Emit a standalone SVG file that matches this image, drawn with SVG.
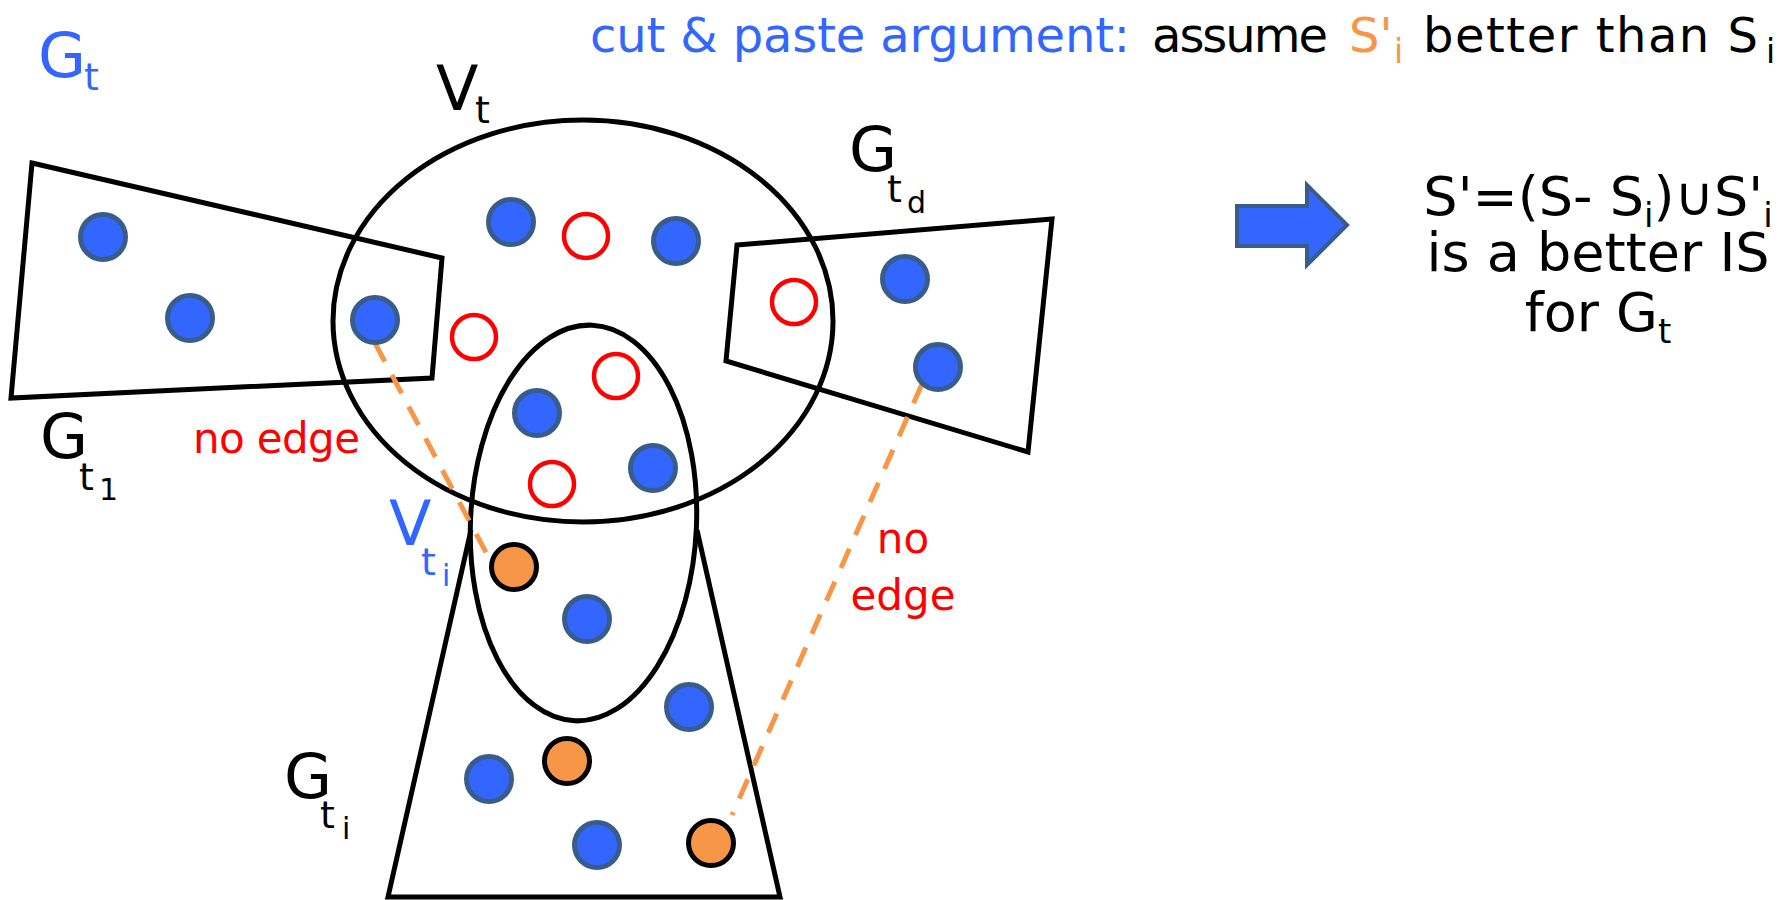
<svg xmlns="http://www.w3.org/2000/svg" width="1791" height="900" viewBox="0 0 1791 900">
<defs>
<style>
.shape{fill:none;stroke:#000;stroke-width:5;stroke-linejoin:miter}
.blue{fill:#3366FF;stroke:#385D8A;stroke-width:5}
.red{fill:#fff;stroke:#FF0000;stroke-width:4.5}
.orange{fill:#F79646;stroke:#000;stroke-width:5}
.dash{fill:none;stroke:#F79646;stroke-width:5;stroke-dasharray:21 15}
text{font-family:"DejaVu Sans","Liberation Sans",sans-serif}
.big{font-size:62px}
.sub1{font-size:38px}
.sub2{font-size:30px}
.title{font-size:48px}
.tsub{font-size:33px}
.lbl{font-size:42px;fill:#FF0000}
.rb{font-size:54px;fill:#000}
.rsub{font-size:34px}
</style>
</defs>
<rect width="1791" height="900" fill="#fff"/>

<g id="Vt-set">
<ellipse class="shape" cx="583" cy="321" rx="250" ry="201"/>
</g>
<g id="Gt1-region">
<polygon class="shape" points="32,163 442,258 432,378 11,398"/>
</g>
<g id="Gtd-region">
<polygon class="shape" points="737,245 1052,219 1028,452 726,361"/>
</g>
<g id="Gti-region">
<path class="shape" d="M471,530 L388,897 L780,897 L697,530"/>
</g>
<g id="Vti-set">
<ellipse class="shape" cx="583.5" cy="523" rx="113" ry="198" transform="rotate(2.5 583.5 523)"/>
</g>

<g id="connectors">
<line class="dash" x1="375" y1="343" x2="490" y2="560"/>
<line class="dash" x1="922" y1="384" x2="732" y2="815"/>
</g>

<g id="vertices">
<circle class="blue" cx="103" cy="237" r="22.5"/>
<circle class="blue" cx="190" cy="318" r="22.5"/>
<circle class="blue" cx="375" cy="320" r="22.5"/>
<circle class="blue" cx="511" cy="222" r="22.5"/>
<circle class="blue" cx="676" cy="241" r="22.5"/>
<circle class="blue" cx="537" cy="413" r="22.5"/>
<circle class="blue" cx="653" cy="468" r="22.5"/>
<circle class="blue" cx="587" cy="619" r="22.5"/>
<circle class="blue" cx="689" cy="707" r="22.5"/>
<circle class="blue" cx="489" cy="779" r="22.5"/>
<circle class="blue" cx="597" cy="845" r="22.5"/>
<circle class="blue" cx="905" cy="279" r="22.5"/>
<circle class="blue" cx="938" cy="367" r="22.5"/>
<circle class="red" cx="586" cy="236" r="22"/>
<circle class="red" cx="474" cy="337" r="22"/>
<circle class="red" cx="616" cy="376" r="22"/>
<circle class="red" cx="552" cy="484" r="22"/>
<circle class="red" cx="794" cy="302" r="22"/>
<circle class="orange" cx="514" cy="567" r="22.5"/>
<circle class="orange" cx="567" cy="761" r="22.5"/>
<circle class="orange" cx="711" cy="843" r="22.5"/>
</g>

<g id="labels">
<text class="big" x="38" y="77" fill="#3366FF">G<tspan class="sub1" x="84" y="90">t</tspan></text>

<text class="big" x="436" y="110" fill="#000">V<tspan class="sub1" x="475" y="123">t</tspan></text>

<text class="big" x="40" y="458" fill="#000">G<tspan class="sub1" x="79" y="490">t</tspan><tspan class="sub2" x="99" y="500">1</tspan></text>

<text class="big" x="849" y="171" fill="#000">G<tspan class="sub1" x="887" y="202">t</tspan><tspan class="sub2" x="907" y="213">d</tspan></text>

<text class="big" x="389" y="545" fill="#3366FF">V<tspan class="sub1" x="421" y="575">t</tspan><tspan class="sub2" x="442" y="586">i</tspan></text>

<text class="big" x="284" y="798" fill="#000">G<tspan class="sub1" x="320" y="828">t</tspan><tspan class="sub2" x="342" y="839">i</tspan></text>

<text class="lbl" x="193" y="453" textLength="167" lengthAdjust="spacing">no edge</text>
<text class="lbl" x="903" y="553" text-anchor="middle">no</text>
<text class="lbl" x="903" y="610" text-anchor="middle">edge</text>
</g>

<g id="title">
<text class="title" x="590" y="52" fill="#3366FF" textLength="540" lengthAdjust="spacing">cut &amp; paste argument:</text>
<text class="title" x="1152" y="52" fill="#000" textLength="176" lengthAdjust="spacing">assume</text>
<text class="title" x="1349" y="52" fill="#F79646">S'<tspan class="tsub" x="1394" y="63">i</tspan></text>
<text class="title" x="1423" y="52" fill="#000"><tspan textLength="335" lengthAdjust="spacing">better than S</tspan><tspan class="tsub" x="1766" y="63">i</tspan></text>
</g>

<g id="implies-arrow">
<polygon points="1237,206 1307,206 1307,185 1347,225 1307,265 1307,246 1237,246" fill="#3366FF" stroke="#385D8A" stroke-width="4"/>
</g>

<g id="conclusion">
<text class="rb" x="1598" y="215" text-anchor="middle">S'=(S- S<tspan class="rsub" dy="12">i</tspan><tspan dy="-12">)∪S'</tspan><tspan class="rsub" dy="12">i</tspan></text>
<text class="rb" x="1598" y="271" text-anchor="middle">is a better IS</text>
<text class="rb" x="1598" y="331" text-anchor="middle">for G<tspan class="rsub" dy="12">t</tspan></text>
</g>
</svg>
